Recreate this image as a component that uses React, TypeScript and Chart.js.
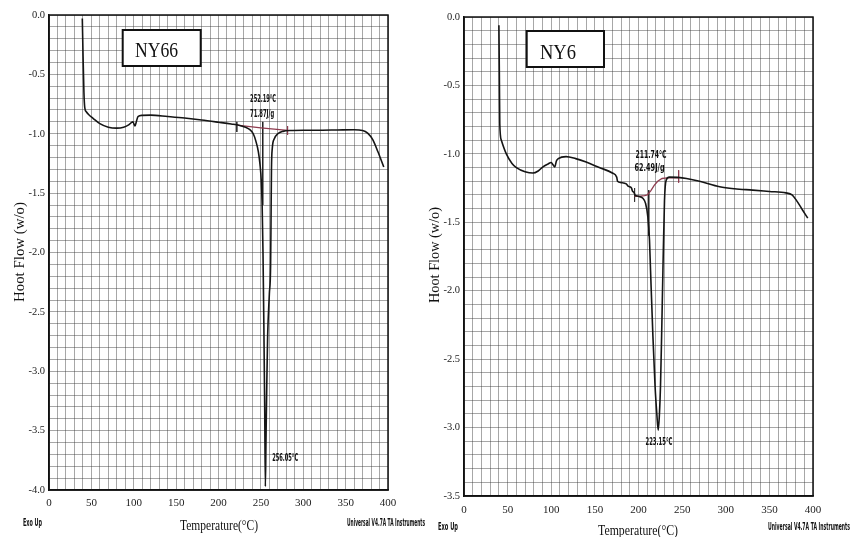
import React, { useEffect, useRef } from "react";
import { Chart, registerables } from "chart.js";
Chart.register(...registerables);

// ---------- NY66 ----------
const ny66Temp = [39.3, 40.2, 41.2, 42.2, 44, 47, 52, 60, 70, 80, 88, 94, 99, 101.5, 103, 105, 110, 120, 140, 160, 180, 200, 215, 225, 232, 237, 241, 244, 247, 249, 250.5, 251.5, 252.5, 253.5, 254.5, 255.3, 256, 257, 258, 260, 261.5, 262, 262.5, 263.5, 266, 270, 276, 285, 300, 320, 340, 360, 370, 376, 382, 388, 395];
const ny66Flow = [-0.03, -0.35, -0.65, -0.78, -0.815, -0.84, -0.87, -0.915, -0.945, -0.953, -0.945, -0.925, -0.9, -0.935, -0.9, -0.855, -0.845, -0.843, -0.855, -0.868, -0.884, -0.903, -0.918, -0.93, -0.945, -0.965, -1.0, -1.06, -1.15, -1.26, -1.4, -1.6, -2.0, -2.6, -3.3, -3.97, -3.6, -3.1, -2.7, -2.35, -2.1, -1.7, -1.3, -1.12, -1.04, -1.0, -0.98, -0.972, -0.97, -0.97, -0.968, -0.966, -0.972, -0.995, -1.05, -1.15, -1.28];
const ny66BaseTemp = [222, 250, 281.5];
const ny66BaseFlow = [-0.928, -0.95, -0.972];
const ny66OnsetTemp = [252.19, 252.19];
const ny66OnsetFlow = [-0.9, -1.6];
const ny66TickATemp = [221.6, 221.6];
const ny66TickAFlow = [-0.9, -0.985];
const ny66TickBTemp = [281.5, 281.5];
const ny66TickBFlow = [-0.935, -1.01];

// ---------- NY6 ----------
const ny6Temp = [40, 40.5, 41, 42.8, 48.5, 55, 60, 70, 79, 85, 90.5, 96, 100, 102, 104, 106, 108, 117, 128, 140, 155, 170, 175, 176, 180, 186, 188, 190, 192, 193, 195, 196, 200, 205, 208, 210.7, 212.6, 213.8, 216.5, 219, 221, 222.6, 224, 225.2, 226.5, 228, 229.8, 231.8, 235.5, 245, 255, 270, 293, 310, 331, 350, 369, 376, 381, 388, 394];
const ny6Flow = [-0.06, -0.4, -0.78, -0.9, -1.0, -1.07, -1.1, -1.13, -1.14, -1.125, -1.095, -1.075, -1.063, -1.08, -1.095, -1.05, -1.035, -1.02, -1.035, -1.06, -1.1, -1.14, -1.17, -1.2, -1.21, -1.22, -1.235, -1.24, -1.25, -1.27, -1.285, -1.3, -1.31, -1.325, -1.36, -1.46, -1.63, -1.85, -2.33, -2.7, -2.9, -3.02, -2.9, -2.7, -2.33, -1.85, -1.34, -1.19, -1.17, -1.172, -1.18, -1.2, -1.24, -1.255, -1.265, -1.275, -1.285, -1.3, -1.34, -1.41, -1.47];
const ny6BaseTemp = [195.5, 200, 207, 210, 214, 218, 222, 227, 233, 246];
const ny6BaseFlow = [-1.31, -1.31, -1.305, -1.3, -1.27, -1.23, -1.2, -1.18, -1.175, -1.175];
const ny6OnsetTemp = [211.74, 211.74];
const ny6OnsetFlow = [-1.265, -1.6];
const ny6TickATemp = [195.5, 195.5];
const ny6TickAFlow = [-1.25, -1.35];
const ny6TickBTemp = [246, 246];
const ny6TickBFlow = [-1.12, -1.21];

// ticks
const xTickLabels = [0, 50, 100, 150, 200, 250, 300, 350, 400];

const zip = (xs: number[], ys: number[]) => xs.map((x, i) => ({ x, y: ys[i] }));

type Txt = { text: string; x: number; y: number; w: number; font: string; rot?: boolean; data?: boolean };

function drawFit(ctx: CanvasRenderingContext2D, t: Txt, chart: any) {
  let x = t.x, y = t.y;
  if (t.data) {
    x = chart.scales.x.getPixelForValue(t.x);
    y = chart.scales.y.getPixelForValue(t.y);
  }
  ctx.save();
  ctx.font = t.font;
  ctx.fillStyle = "#111";
  ctx.textBaseline = "middle";
  ctx.textAlign = "left";
  const m = ctx.measureText(t.text).width;
  const s = t.w / m;
  ctx.translate(x, y);
  if (t.rot) {
    ctx.rotate(-Math.PI / 2);
    ctx.scale(s, 1);
    ctx.fillText(t.text, -m / 2, 0);
  } else {
    ctx.scale(s, 1);
    ctx.fillText(t.text, 0, 0);
  }
  ctx.restore();
}

const overlay = {
  id: "overlay",
  afterDraw(chart: any, _args: any, opts: any) {
    const ctx = chart.ctx as CanvasRenderingContext2D;
    const a = chart.chartArea;
    ctx.save();
    ctx.strokeStyle = "#111";
    ctx.lineWidth = 1.5;
    ctx.strokeRect(a.left, a.top, a.right - a.left, a.bottom - a.top);
    if (opts.box) {
      const b = opts.box;
      ctx.fillStyle = "#fff";
      ctx.fillRect(b.x, b.y, b.w, b.h);
      ctx.lineWidth = 2;
      ctx.strokeRect(b.x, b.y, b.w, b.h);
    }
    ctx.restore();
    (opts.texts || []).forEach((t: Txt) => drawFit(ctx, t, chart));
  },
};

const SERIF = "'Liberation Serif', 'Times New Roman', serif";
const COND = "bold 10px 'DejaVu Sans Condensed', 'DejaVu Sans', sans-serif";

function makeConfig(p: {
  curve: { x: number; y: number }[];
  base: { x: number; y: number }[];
  onset: { x: number; y: number }[];
  tickA: { x: number; y: number }[];
  tickB: { x: number; y: number }[];
  yMin: number;
  padding: any;
  yWidth: number;
  xHeight: number;
  xPad: number;
  box: any;
  texts: Txt[];
}) {
  const line = (data: any, color: string, width: number) => ({
    data,
    borderColor: color,
    borderWidth: width,
    pointRadius: 0,
    fill: false,
    tension: 0,
  });
  const gridColor = "rgba(60,60,60,0.45)";
  return {
    type: "line" as const,
    data: {
      datasets: [
        { ...line(p.curve, "#151515", 1.6), cubicInterpolationMode: "monotone" },
        line(p.base, "#8e3b4e", 1.3),
        line(p.onset, "#222", 1),
        line(p.tickA, "#333", 1),
        line(p.tickB, "#8e3b4e", 1),
      ],
    },
    options: {
      animation: false,
      responsive: false,
      layout: { padding: p.padding },
      plugins: { legend: { display: false }, tooltip: { enabled: false }, overlay: { box: p.box, texts: p.texts } },
      scales: {
        x: {
          type: "linear",
          min: 0,
          max: 400,
          afterFit: (s: any) => { s.height = p.xHeight; },
          ticks: {
            stepSize: 10,
            autoSkip: false,
            maxRotation: 0,
            padding: p.xPad,
            color: "#222",
            font: { family: SERIF, size: 11 },
            callback: (v: number) => (xTickLabels.includes(Math.round(v)) && Math.abs(v - Math.round(v)) < 1e-6 ? String(Math.round(v)) : ""),
          },
          grid: { color: gridColor, lineWidth: 1, drawTicks: false },
          border: { display: true, color: "#111", width: 1.5 },
        },
        y: {
          type: "linear",
          min: p.yMin,
          max: 0,
          afterFit: (s: any) => { s.width = p.yWidth; },
          ticks: {
            stepSize: 0.1,
            autoSkip: false,
            padding: 4,
            color: "#222",
            font: { family: SERIF, size: 10.5 },
            callback: (v: number) => (Math.abs(v * 2 - Math.round(v * 2)) < 1e-6 ? (Math.round(v * 2) / 2).toFixed(1) : ""),
          },
          grid: { color: gridColor, lineWidth: 1, drawTicks: false },
          border: { display: true, color: "#111", width: 1.5 },
        },
      },
    },
    plugins: [overlay],
  };
}

export default function App() {
  const leftRef = useRef<HTMLCanvasElement>(null);
  const rightRef = useRef<HTMLCanvasElement>(null);

  useEffect(() => {
    const left = new Chart(leftRef.current as HTMLCanvasElement, makeConfig({
      curve: zip(ny66Temp, ny66Flow),
      base: zip(ny66BaseTemp, ny66BaseFlow),
      onset: zip(ny66OnsetTemp, ny66OnsetFlow),
      tickA: zip(ny66TickATemp, ny66TickAFlow),
      tickB: zip(ny66TickBTemp, ny66TickBFlow),
      yMin: -4,
      padding: { left: 8, right: 42, top: 15, bottom: 17 },
      yWidth: 41,
      xHeight: 30,
      xPad: 7,
      box: { x: 122.7, y: 30, w: 78, h: 36 },
      texts: [
        { text: "NY66", x: 135, y: 51, w: 43, font: `21px ${SERIF}` },
        { text: "Hoot Flow (w/o)", x: 20, y: 252, w: 100, font: `15px ${SERIF}`, rot: true },
        { text: "Temperature(°C)", x: 180, y: 526, w: 78, font: `15px ${SERIF}` },
        { text: "Exo Up", x: 23, y: 523, w: 19, font: COND },
        { text: "Universal V4.7A TA Instruments", x: 347, y: 523, w: 78, font: COND },
        { text: "252.19°C", x: 237.3, y: -0.707, w: 26, font: COND, data: true },
        { text: "71.87J/g", x: 237.3, y: -0.834, w: 24, font: COND, data: true },
        { text: "256.05°C", x: 263.3, y: -3.73, w: 26, font: COND, data: true },
      ],
    }) as any);
    const right = new Chart(rightRef.current as HTMLCanvasElement, makeConfig({
      curve: zip(ny6Temp, ny6Flow),
      base: zip(ny6BaseTemp, ny6BaseFlow),
      onset: zip(ny6OnsetTemp, ny6OnsetFlow),
      tickA: zip(ny6TickATemp, ny6TickAFlow),
      tickB: zip(ny6TickBTemp, ny6TickBFlow),
      yMin: -3.5,
      padding: { left: 4, right: 40, top: 17, bottom: 11 },
      yWidth: 40,
      xHeight: 30,
      xPad: 8,
      box: { x: 106.7, y: 31, w: 77.3, h: 36 },
      texts: [
        { text: "NY6", x: 120, y: 53, w: 36, font: `21px ${SERIF}` },
        { text: "Hoot Flow (w/o)", x: 15, y: 255, w: 96, font: `15px ${SERIF}`, rot: true },
        { text: "Temperature(°C)", x: 178, y: 531, w: 80, font: `15px ${SERIF}` },
        { text: "Exo Up", x: 18, y: 527, w: 20, font: COND },
        { text: "Universal V4.7A TA Instruments", x: 348, y: 527, w: 82, font: COND },
        { text: "211.74°C", x: 196.6, y: -1.009, w: 31, font: COND, data: true },
        { text: "62.49J/g", x: 195.5, y: -1.104, w: 30, font: COND, data: true },
        { text: "223.15°C", x: 208, y: -3.112, w: 27, font: COND, data: true },
      ],
    }) as any);
    return () => {
      left.destroy();
      right.destroy();
    };
  }, []);

  return (
    <div style={{ position: "fixed", left: 0, top: 0, width: 853, height: 537, background: "#fff", overflow: "hidden" }}>
      <canvas ref={leftRef} width={430} height={537} style={{ position: "absolute", left: 0, top: 0, width: 430, height: 537 }} />
      <canvas ref={rightRef} width={433} height={537} style={{ position: "absolute", left: 420, top: 0, width: 433, height: 537 }} />
    </div>
  );
}
